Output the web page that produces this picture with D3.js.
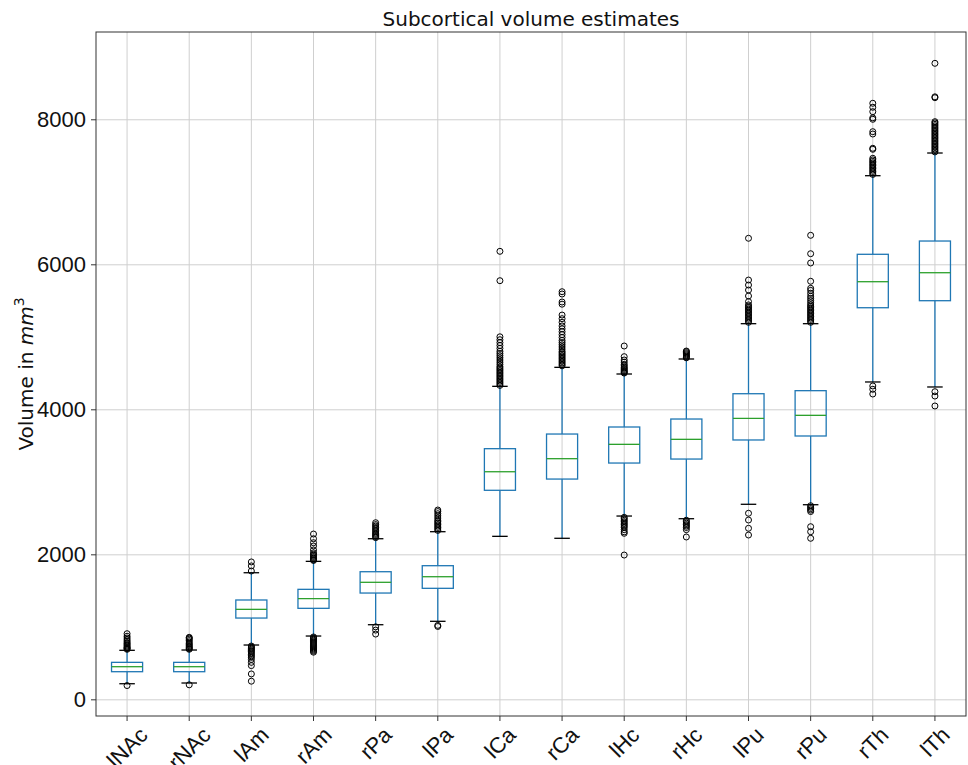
<!DOCTYPE html>
<html>
<head>
<meta charset="utf-8">
<script src="https://cdn.jsdelivr.net/npm/d3@7"></script>
<style>
  body { margin: 0; background: #fff; }
  svg { font-family: 'DejaVu Sans', sans-serif; }
  .grid line { stroke: #cfcfcf; stroke-width: 1; }
  .grid .domain { display: none; }
  .axis text { font-size: 22px; fill: #111; }
  .axis line { stroke: #333; }
  .axis .domain { display: none; }
</style>
</head>
<body>
<svg id="chart" width="968" height="765"></svg>
<script>
var categories = ['lNAc', 'rNAc', 'lAm', 'rAm', 'rPa', 'lPa', 'lCa', 'rCa', 'lHc', 'rHc', 'lPu', 'rPu', 'rTh', 'lTh']

var whiskerLow = [215, 225, 749, 873, 1029, 1076, 2248, 2221, 2528, 2491, 2690, 2684, 4377, 4308]
var q1 = [381, 381, 1121, 1255, 1466, 1531, 2883, 3038, 3259, 3314, 3577, 3632, 5401, 5498]
var median = [450, 450, 1241, 1388, 1614, 1691, 3139, 3319, 3517, 3586, 3876, 3917, 5760, 5884]
var q3 = [510, 510, 1370, 1517, 1760, 1843, 3457, 3659, 3756, 3866, 4215, 4257, 6138, 6321]
var whiskerHigh = [676, 680, 1746, 1903, 2215, 2312, 4317, 4579, 4487, 4694, 5181, 5181, 7222, 7535]

var outliers = [
  [690, 700, 710, 720, 735, 750, 765, 780, 800, 820, 845, 870, 905, 190],
  [690, 700, 712, 725, 740, 755, 770, 790, 810, 830, 845, 855, 200],
  [1770, 1840, 1895, 735, 720, 705, 690, 675, 660, 640, 620, 600, 580, 550, 510, 465, 350, 250],
  [1915, 1925, 1940, 1955, 1970, 1985, 2000, 2020, 2060, 2115, 2160, 2215, 2280,
    860, 845, 830, 815, 800, 785, 770, 755, 740, 725, 710, 695, 680, 665, 650],
  [2230, 2245, 2260, 2275, 2290, 2310, 2330, 2350, 2370, 2390, 2410, 2436, 1000, 955, 900],
  [2330, 2350, 2370, 2390, 2410, 2430, 2450, 2470, 2500, 2530, 2560, 2590, 2611, 1020, 1005],
  [4330, 4350, 4370, 4390, 4410, 4430, 4450, 4470, 4490, 4510, 4530, 4550, 4570, 4590, 4620,
    4650, 4680, 4710, 4740, 4770, 4800, 4840, 4880, 4920, 4960, 5000, 5774, 6179],
  [4600, 4620, 4640, 4660, 4680, 4700, 4720, 4740, 4760, 4780, 4800, 4830, 4860, 4890, 4920,
    4950, 4990, 5030, 5070, 5110, 5150, 5200, 5250, 5300, 5450, 5480, 5590, 5622],
  [4500, 4510, 4520, 4535, 4550, 4565, 4580, 4600, 4620, 4650, 4680, 4726, 4873,
    2510, 2490, 2470, 2450, 2430, 2410, 2390, 2370, 2340, 2310, 2290, 1990],
  [4710, 4720, 4735, 4750, 4765, 4780, 4795, 4804, 2470, 2450, 2430, 2410, 2390, 2370, 2340, 2239],
  [5200, 5220, 5240, 5260, 5280, 5300, 5320, 5340, 5360, 5380, 5400, 5420, 5440, 5485, 5563,
    5645, 5714, 5783, 6359, 2566, 2473, 2359, 2266],
  [5200, 5220, 5240, 5260, 5280, 5300, 5320, 5340, 5360, 5380, 5400, 5420, 5440, 5470, 5500,
    5530, 5560, 5600, 5640, 5669, 5766, 6018, 6146, 6400, 2670, 2650, 2630, 2610, 2590, 2381, 2312, 2221],
  [7240, 7260, 7280, 7300, 7320, 7340, 7360, 7380, 7400, 7420, 7440, 7462, 7586, 7600, 7797,
    7829, 8000, 8020, 8105, 8166, 8221, 4322, 4276, 4211],
  [7550, 7570, 7590, 7610, 7630, 7650, 7670, 7690, 7710, 7730, 7750, 7770, 7790, 7810, 7830,
    7850, 7870, 7890, 7910, 7930, 7950, 7967, 8298, 8310, 8772, 4243, 4183, 4046]
]

var yTicks = [0, 2000, 4000, 6000, 8000]

var margin = { top: 32, right: 2, bottom: 49, left: 96 }
var svg = d3.select('#chart')
var width = +svg.attr('width') - margin.left - margin.right
var height = +svg.attr('height') - margin.top - margin.bottom

var x = d3.scaleBand().domain(categories).range([0, width])
var y = d3.scaleLinear().domain([-230, 9204]).range([height, 0])

var boxW = x.bandwidth() * 0.5
var capW = x.bandwidth() * 0.25
var cx = function (i) { return x(categories[i]) + x.bandwidth() / 2 }

var g = svg.append('g')
  .attr('transform', 'translate(' + margin.left + ',' + margin.top + ')')

// grid
g.append('g')
  .attr('class', 'grid')
  .call(d3.axisLeft(y).tickValues(yTicks).tickSize(-width).tickFormat(''))
g.append('g')
  .attr('class', 'grid')
  .attr('transform', 'translate(0,' + height + ')')
  .call(d3.axisBottom(x).tickSize(height).tickFormat(''))
  .selectAll('line').attr('transform', 'translate(0,' + (-height) + ')')

var data = categories.map(function (c, i) {
  return { i: i, lo: whiskerLow[i], q1: q1[i], med: median[i], q3: q3[i], hi: whiskerHigh[i], out: outliers[i] }
})

var box = g.selectAll('.box').data(data).enter().append('g').attr('class', 'box')

// whiskers
box.append('line')
  .attr('x1', function (d) { return cx(d.i) }).attr('x2', function (d) { return cx(d.i) })
  .attr('y1', function (d) { return y(d.q3) }).attr('y2', function (d) { return y(d.hi) })
  .attr('stroke', '#1f77b4').attr('stroke-width', 1.3)
box.append('line')
  .attr('x1', function (d) { return cx(d.i) }).attr('x2', function (d) { return cx(d.i) })
  .attr('y1', function (d) { return y(d.q1) }).attr('y2', function (d) { return y(d.lo) })
  .attr('stroke', '#1f77b4').attr('stroke-width', 1.3)

// caps
;['hi', 'lo'].forEach(function (k) {
  box.append('line')
    .attr('x1', function (d) { return cx(d.i) - capW / 2 }).attr('x2', function (d) { return cx(d.i) + capW / 2 })
    .attr('y1', function (d) { return y(d[k]) }).attr('y2', function (d) { return y(d[k]) })
    .attr('stroke', '#000').attr('stroke-width', 1.3)
})

// boxes
box.append('rect')
  .attr('x', function (d) { return cx(d.i) - boxW / 2 })
  .attr('y', function (d) { return y(d.q3) })
  .attr('width', boxW)
  .attr('height', function (d) { return y(d.q1) - y(d.q3) })
  .attr('fill', 'none')
  .attr('stroke', '#1f77b4').attr('stroke-width', 1.3)

// medians
box.append('line')
  .attr('x1', function (d) { return cx(d.i) - boxW / 2 }).attr('x2', function (d) { return cx(d.i) + boxW / 2 })
  .attr('y1', function (d) { return y(d.med) }).attr('y2', function (d) { return y(d.med) })
  .attr('stroke', '#2ca02c').attr('stroke-width', 1.3)

// fliers
box.selectAll('circle')
  .data(function (d) { return d.out.map(function (v) { return { i: d.i, v: v } }) })
  .enter().append('circle')
  .attr('cx', function (d) { return cx(d.i) })
  .attr('cy', function (d) { return y(d.v) })
  .attr('r', 3)
  .attr('fill', 'none')
  .attr('stroke', '#000').attr('stroke-width', 1)

// axes
g.append('g')
  .attr('class', 'axis')
  .call(d3.axisLeft(y).tickValues(yTicks).tickSize(5).tickPadding(5).tickFormat(d3.format('d')))

var xa = g.append('g')
  .attr('class', 'axis')
  .attr('transform', 'translate(0,' + height + ')')
  .call(d3.axisBottom(x).tickSize(5))
xa.selectAll('text')
  .attr('text-anchor', 'middle')
  .attr('dy', '0.35em')
  .attr('y', 0)
  .attr('transform', function () {
    var w = this.getComputedTextLength()
    var off = 10 + (w + 14) * 0.3536
    return 'translate(0,' + off + ') rotate(-45)'
  })

// frame
g.append('rect')
  .attr('width', width).attr('height', height)
  .attr('fill', 'none').attr('stroke', '#333').attr('stroke-width', 1)

// title
svg.append('text')
  .attr('x', margin.left + width / 2).attr('y', 26)
  .attr('text-anchor', 'middle')
  .attr('font-size', 20).attr('fill', '#111')
  .text('Subcortical volume estimates')

// y label
var yl = svg.append('text')
  .attr('transform', 'translate(33,' + (margin.top + height / 2) + ') rotate(-90)')
  .attr('text-anchor', 'middle')
  .attr('font-size', 20).attr('fill', '#111')
yl.append('tspan').text('Volume in ')
yl.append('tspan').attr('font-style', 'italic').text('mm')
yl.append('tspan').attr('font-size', 14).attr('dy', -9).text('3')
</script>
</body>
</html>
